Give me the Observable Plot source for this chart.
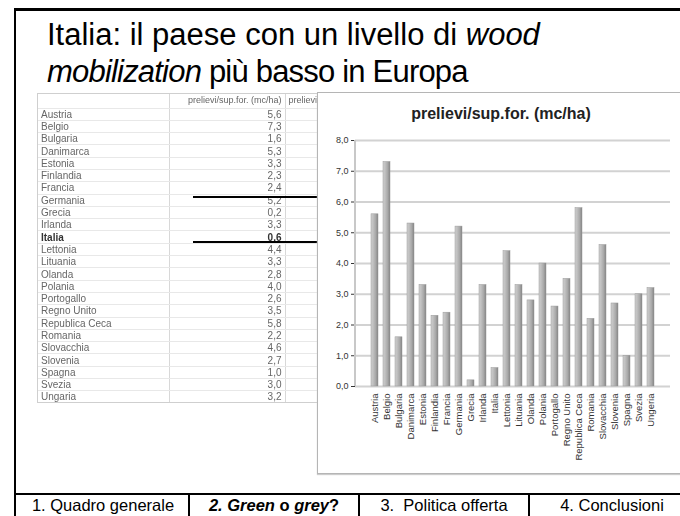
<!DOCTYPE html>
<html>
<head>
<meta charset="utf-8">
<script src="https://cdn.jsdelivr.net/npm/d3@7"></script>
<script src="https://cdn.jsdelivr.net/npm/@observablehq/plot@0.6"></script>
<style>
  html, body { margin: 0; padding: 0; background: #fff; }
  body { width: 680px; height: 516px; position: relative; overflow: hidden; font-family: "Liberation Sans", Arial, sans-serif; }
  .frame { position: absolute; left: 14px; top: 8px; width: 700px; height: 520px; border-top: 3px solid #000; border-left: 2px solid #000; box-sizing: border-box; }
  .title { position: absolute; left: 47px; top: 16px; font-size: 31px; line-height: 37px; color: #000; white-space: nowrap; }
  .title .l2 { letter-spacing: -0.8px; }
  .sheet { position: absolute; left: 37px; top: 93px; width: 281px; height: 310px; border: 1px solid #cfcfcf; border-right: none; box-sizing: border-box; overflow: hidden; background: #fff; }
  .sheet table { border-collapse: collapse; font-size: 10px; color: #666; table-layout: fixed; width: 306px; filter: blur(0.3px); }
  .sheet td { height: 12.3px; padding: 0 3px; border-bottom: 1px solid #e8e8e8; border-right: 1px solid #d8d8d8; white-space: nowrap; overflow: hidden; line-height: 11px; box-sizing: border-box; }
  .sheet td.num { text-align: right; }
  .sheet tr.bold td { font-weight: bold; color: #333; }
  .strike { position: absolute; height: 2px; background: #000; }
  .chartbox { position: absolute; left: 317px; top: 92px; width: 370px; height: 382px; border: 1px solid #b5b5b5; box-sizing: border-box; background: #fff; box-shadow: 0 1px 1px #ccc; }
  .charttitle { position: absolute; left: 0; width: 370px; top: 12px; text-align: center; font-weight: bold; font-size: 16px; color: #222; transform: translateX(-2px); }
  .chartbox svg { position: absolute; left: 0; top: 0; }
  .tabs { position: absolute; left: 14px; top: 493px; width: 700px; height: 30px; border-top: 2px solid #000; }
  .tab { position: absolute; top: 0; height: 30px; text-align: center; font-size: 16.5px; line-height: 21px; color: #000; border-left: 2px solid #000; box-sizing: border-box; white-space: nowrap; }
</style>
</head>
<body>
<div class="frame"></div>
<div class="title">Italia: il paese con un livello di <i>wood</i><br><span class="l2"><i>mobilization</i> più basso in Europa</span></div>
<div class="sheet" id="sheet"></div>
<div class="strike" style="left:193px; top:196px; width:125px;"></div>
<div class="strike" style="left:193px; top:241px; width:125px;"></div>
<div class="chartbox" id="chartbox"><div class="charttitle" id="ctitle"></div></div>
<div class="tabs" id="tabs"></div>
<script>
// ---- data ----
const tableCountries = ["Austria","Belgio","Bulgaria","Danimarca","Estonia","Finlandia","Francia","Germania","Grecia","Irlanda","Italia","Lettonia","Lituania","Olanda","Polania","Portogallo","Regno Unito","Republica Ceca","Romania","Slovacchia","Slovenia","Spagna","Svezia","Ungaria"];
const chartCountries = ["Austria","Belgio","Bulgaria","Danimarca","Estonia","Finlandia","Francia","Germania","Grecia","Irlanda","Italia","Lettonia","Lituania","Olanda","Polania","Portogallo","Regno Unito","Republica Ceca","Romania","Slovacchia","Slovenia","Spagna","Svezia","Ungeria"];
const values = [5.6, 7.3, 1.6, 5.3, 3.3, 2.3, 2.4, 5.2, 0.2, 3.3, 0.6, 4.4, 3.3, 2.8, 4.0, 2.6, 3.5, 5.8, 2.2, 4.6, 2.7, 1.0, 3.0, 3.2];
const columnHeaders = ["", "prelievi/sup.for. (mc/ha)", "prelievi"];
const chartTitle = "prelievi/sup.for. (mc/ha)";
const yTicks = [0, 1, 2, 3, 4, 5, 6, 7, 8];
const tabLabels = ["1. Quadro generale", "<b><i>2. Green</i> o <i>grey</i>?</b>", "3.&nbsp; Politica offerta", "4. Conclusioni"];
const boldRow = "Italia";
const fmt = v => v.toFixed(1).replace(".", ",");

// ---- spreadsheet ----
const sheet = d3.select("#sheet");
const tbl = sheet.append("table");
const cg = tbl.append("colgroup");
[131, 116, 59].forEach(w => cg.append("col").style("width", w + "px"));
const hr = tbl.append("tr").style("height", "14px");
columnHeaders.forEach((h, i) => hr.append("td").style("font-size", "9px").style("text-align", i === 1 ? "right" : "left").text(h));
tableCountries.forEach((c, i) => {
  const tr = tbl.append("tr").attr("class", c === boldRow ? "bold" : null);
  tr.append("td").text(c);
  tr.append("td").attr("class", "num").text(fmt(values[i]));
  tr.append("td").text("");
});

// ---- chart ----
d3.select("#ctitle").text(chartTitle);
const data = chartCountries.map((c, i) => ({c, v: values[i]}));
const chart = Plot.plot({
  width: 362,
  height: 380,
  marginLeft: 37,
  marginRight: 10,
  marginTop: 47,
  marginBottom: 87,
  style: {fontFamily: "Liberation Sans, Arial, sans-serif", fontSize: "9px", color: "#333", background: "transparent", overflow: "visible"},
  x: {domain: chartCountries, padding: 0.44, label: null, tickRotate: -90, tickSize: 0, tickPadding: 7},
  y: {domain: [0, 8], ticks: yTicks, tickFormat: fmt, label: null, tickSize: 4, tickPadding: 3},
  marks: [
    Plot.ruleY(yTicks, {stroke: "#d2d2d2", strokeWidth: 2}),
    Plot.barY(data, {x: "c", y: "v", fill: "url(#barGrad)", stroke: "#9a9a9a", strokeWidth: 0.5})
  ]
});
const svg = d3.select(chart);
const defs = svg.insert("defs", ":first-child");
const g = defs.append("linearGradient").attr("id", "barGrad").attr("x1", "0").attr("x2", "1").attr("y1", "0").attr("y2", "0");
[["0%", "#cfcfcf"], ["35%", "#bdbdbd"], ["70%", "#a6a6a6"], ["100%", "#818181"]].forEach(([o, c]) => g.append("stop").attr("offset", o).attr("stop-color", c));
svg.selectAll("[aria-label='x-axis tick label']").style("font-size", "9.5px");
document.getElementById("chartbox").appendChild(chart);
// left wall line
const ys = chart.scale("y");
svg.append("line").attr("x1", 37).attr("x2", 37).attr("y1", ys.apply(8)).attr("y2", ys.apply(0)).attr("stroke", "#c8c8c8").attr("stroke-width", 2);

// ---- tabs ----
const tabs = d3.select("#tabs");
const tabPos = [[3, 172], [174, 170], [344, 170], [514, 166]];
tabLabels.forEach((t, i) => tabs.append("div").attr("class", "tab")
  .style("left", tabPos[i][0] + "px").style("width", tabPos[i][1] + "px")
  .style("border-left", i === 0 ? "none" : null)
  .html(t));
</script>
</body>
</html>
